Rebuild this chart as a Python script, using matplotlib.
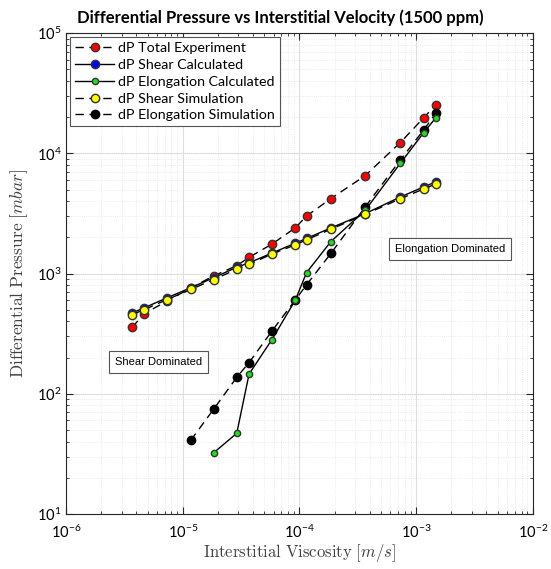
import numpy as np
import matplotlib
matplotlib.use('Agg')
import matplotlib.pyplot as plt
from matplotlib.ticker import LogLocator, NullFormatter, FixedLocator

plt.rcParams['mathtext.fontset'] = 'custom'
plt.rcParams['mathtext.rm'] = 'Lato'
plt.rcParams['mathtext.it'] = 'Lato:italic'
plt.rcParams['mathtext.bf'] = 'Lato:bold'

# Interstitial velocity [m/s]
v_all = [3.7e-6, 4.65e-6, 7.3e-6, 1.17e-5, 1.84e-5, 2.9e-5, 3.7e-5, 5.8e-5,
         9.2e-5, 1.15e-4, 1.86e-4, 3.65e-4, 7.3e-4, 1.16e-3, 1.48e-3]
v_elong_calc = v_all[4:]
v_elong_sim = v_all[3:]

dp_total_exp = [358, 464, 588, 760, 957, 1164, 1365, 1758, 2398, 3013, 4207,
                6516, 12270, 19770, 25460]
dp_shear_calc = [472, 518, 628, 762, 925, 1128, 1230, 1480, 1790, 1960, 2400,
                 3150, 4330, 5260, 5800]
dp_elong_calc = [32.3, 46.9, 146, 282, 600, 1019, 1848, 3350, 8240, 14860, 19870]
dp_shear_sim = [456, 501, 607, 738, 892, 1086, 1194, 1452, 1734, 1909, 2339,
                3105, 4190, 5060, 5570]
dp_elong_sim = [41.0, 74.5, 137, 182, 332, 603, 806, 1472, 3573, 8790, 15640, 21730]

fig = plt.figure(figsize=(5.51, 5.69), dpi=100)
ax = fig.add_axes([0.120, 0.0967, 0.847, 0.845])

dash = (0, (6, 4))
ax.plot(v_all, dp_total_exp, linestyle=dash, color='k', lw=1.0, marker='o',
        mfc='red', mec='#333333', ms=6, label='dP Total Experiment', zorder=3)
ax.plot(v_all, dp_shear_calc, '-', color='k', lw=1.0, marker='o',
        mfc='blue', mec='#333333', ms=6, label='dP Shear Calculated', zorder=3)
ax.plot(v_elong_calc, dp_elong_calc, '-', color='k', lw=1.0, marker='o',
        mfc='#22dd22', mec='#333333', ms=4.5, label='dP Elongation Calculated', zorder=4)
ax.plot(v_all, dp_shear_sim, linestyle=dash, color='k', lw=1.0, marker='o',
        mfc='yellow', mec='#333333', ms=6, label='dP Shear Simulation', zorder=4)
ax.plot(v_elong_sim, dp_elong_sim, linestyle=dash, color='k', lw=1.0, marker='o',
        mfc='black', mec='black', ms=6, label='dP Elongation Simulation', zorder=3)

ax.set_xscale('log')
ax.set_yscale('log')
ax.set_xlim(1e-6, 1e-2)
ax.set_ylim(1e1, 1e5)

xt = [1e-6, 1e-5, 1e-4, 1e-3, 1e-2]
yt = [1e1, 1e2, 1e3, 1e4, 1e5]
ax.xaxis.set_major_locator(FixedLocator(xt))
ax.yaxis.set_major_locator(FixedLocator(yt))
ax.set_xticklabels([r'$10^{%d}$' % int(np.log10(t)) for t in xt])
ax.set_yticklabels([r'$10^{%d}$' % int(np.log10(t)) for t in yt])
ax.xaxis.set_minor_locator(LogLocator(base=10, subs=np.arange(2, 10), numticks=20))
ax.yaxis.set_minor_locator(LogLocator(base=10, subs=np.arange(2, 10), numticks=20))
ax.xaxis.set_minor_formatter(NullFormatter())
ax.yaxis.set_minor_formatter(NullFormatter())

ax.tick_params(which='both', direction='in', top=True, right=True, colors='#262626',
               labelsize=10.5)
ax.tick_params(which='major', length=5)
ax.tick_params(which='minor', length=2.5)
ax.tick_params(axis='x', which='major', pad=7)
for lab in ax.get_xticklabels() + ax.get_yticklabels():
    lab.set_color('black')

ax.grid(which='major', color='#dedede', lw=0.8, linestyle='-')
ax.grid(which='minor', color='#e4e4e4', lw=0.6, linestyle=':')
ax.set_axisbelow(True)
for s in ax.spines.values():
    s.set_color('#262626')
    s.set_linewidth(0.8)

ax.set_xlabel(r'$\mathrm{Interstitial\ Viscosity}\ [m/s]$', fontsize=12,
              math_fontfamily='cm', color='#404040', labelpad=1)
ax.set_ylabel(r'$\mathrm{Differential\ Pressure}\ [mbar]$', fontsize=12.5,
              math_fontfamily='cm', color='#404040', labelpad=5)
fig.text(0.508, 0.969, 'Differential Pressure vs Interstitial Velocity (1500 ppm)',
         fontsize=12, fontweight='bold', family='Lato', ha='center', va='center')

leg = ax.legend(loc='upper left', prop={'family': 'Lato', 'size': 10.3},
                fancybox=False, framealpha=1, edgecolor='#555555',
                borderaxespad=0.3, handlelength=2.7, handletextpad=0.3,
                labelspacing=0.33, borderpad=0.35)
leg.get_frame().set_linewidth(0.8)

box = dict(boxstyle='square,pad=0.55', fc='white', ec='#555555', lw=0.8)
ax.text(6.2e-6, 1.84e2, 'Shear Dominated', fontsize=8, family='Liberation Sans',
        ha='center', va='center', bbox=box)
ax.text(1.95e-3, 1.6e3, 'Elongation Dominated', fontsize=8, family='Liberation Sans',
        ha='center', va='center', bbox=box)

fig.savefig('out.png', dpi=100)
